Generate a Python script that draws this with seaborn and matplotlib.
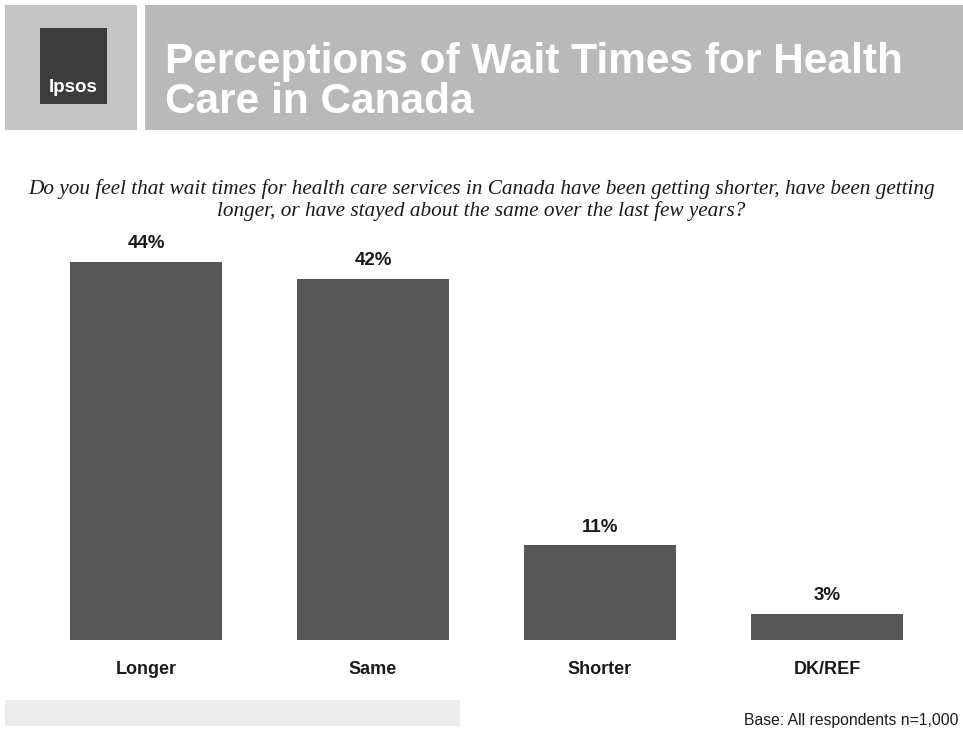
import matplotlib
matplotlib.use("Agg")
import matplotlib.pyplot as plt
from matplotlib.patches import Rectangle
import seaborn as sns
import pandas as pd

# Data
categories = ["Longer", "Same", "Shorter", "DK/REF"]
percentages = [44, 42, 11, 3]
bar_labels = ["44%", "42%", "11%", "3%"]

title_text = "Perceptions of Wait Times for Health\nCare in Canada"
question_text = ("Do you feel that wait times for health care services in Canada have been getting shorter, have been getting\n"
                 "longer, or have stayed about the same over the last few years?")
base_text = "Base: All respondents n=1,000"

df = pd.DataFrame({"answer": categories, "pct": percentages})

sns.set_style("white")
plt.rcParams["font.family"] = ["Liberation Sans", "DejaVu Sans"]

fig = plt.figure(figsize=(9.63, 7.3), dpi=100)
fig.patch.set_facecolor("white")

# header bands
fig.patches.append(Rectangle((5 / 963, 1 - 130 / 730), 132 / 963, 125 / 730,
                             transform=fig.transFigure, facecolor="#c4c4c4", edgecolor="none"))
fig.patches.append(Rectangle((145 / 963, 1 - 130 / 730), 818 / 963, 125 / 730,
                             transform=fig.transFigure, facecolor="#b9b9b9", edgecolor="none"))
# logo block
fig.patches.append(Rectangle((40 / 963, 1 - 104 / 730), 67 / 963, 76 / 730,
                             transform=fig.transFigure, facecolor="#3c3c3c", edgecolor="none"))
fig.text(73 / 963, 1 - 88 / 730, "Ipsos", color="white", fontsize=13.5,
         ha="center", va="center", fontweight="bold")
# bottom left strip
fig.patches.append(Rectangle((5 / 963, 1 - 726 / 730), 455 / 963, 26 / 730,
                             transform=fig.transFigure, facecolor="#ececec", edgecolor="none"))

fig.text(165 / 963, 1 - 82 / 730, title_text, color="white", fontsize=30.5,
         fontweight="bold", ha="left", va="center", linespacing=1.0)

fig.text(0.5, 1 - 200 / 730, question_text, fontsize=15.3, style="italic",
         family=["Liberation Serif", "DejaVu Serif"], ha="center", va="center",
         color="#1a1a1a", linespacing=1.15)

fig.text(958 / 963, 1 - 720 / 730, base_text, fontsize=11.3, ha="right", va="center",
         color="#1a1a1a")

# chart
ax = fig.add_axes([32.5 / 963, 1 - 640 / 730, 908 / 963, 430 / 730])
sns.barplot(data=df, x="answer", y="pct", ax=ax, color="#575757",
            width=0.67, saturation=1, edgecolor="none")
ax.set_xlim(-0.5, 3.5)
ax.set_ylim(0, 50)
ax.set_xlabel("")
ax.set_ylabel("")
ax.set_yticks([])
ax.tick_params(axis="x", length=0, pad=15)
for lbl in ax.get_xticklabels():
    lbl.set_fontsize(13)
    lbl.set_fontweight("bold")
    lbl.set_color("#1a1a1a")
for s in ax.spines.values():
    s.set_visible(False)
ax.set_facecolor("none")

for i, (v, t) in enumerate(zip(percentages, bar_labels)):
    ax.annotate(t, (i, v), xytext=(0, 7), textcoords="offset points",
                ha="center", va="bottom", fontsize=13.5, fontweight="bold",
                color="#1a1a1a")

fig.savefig("out.png", dpi=100)
